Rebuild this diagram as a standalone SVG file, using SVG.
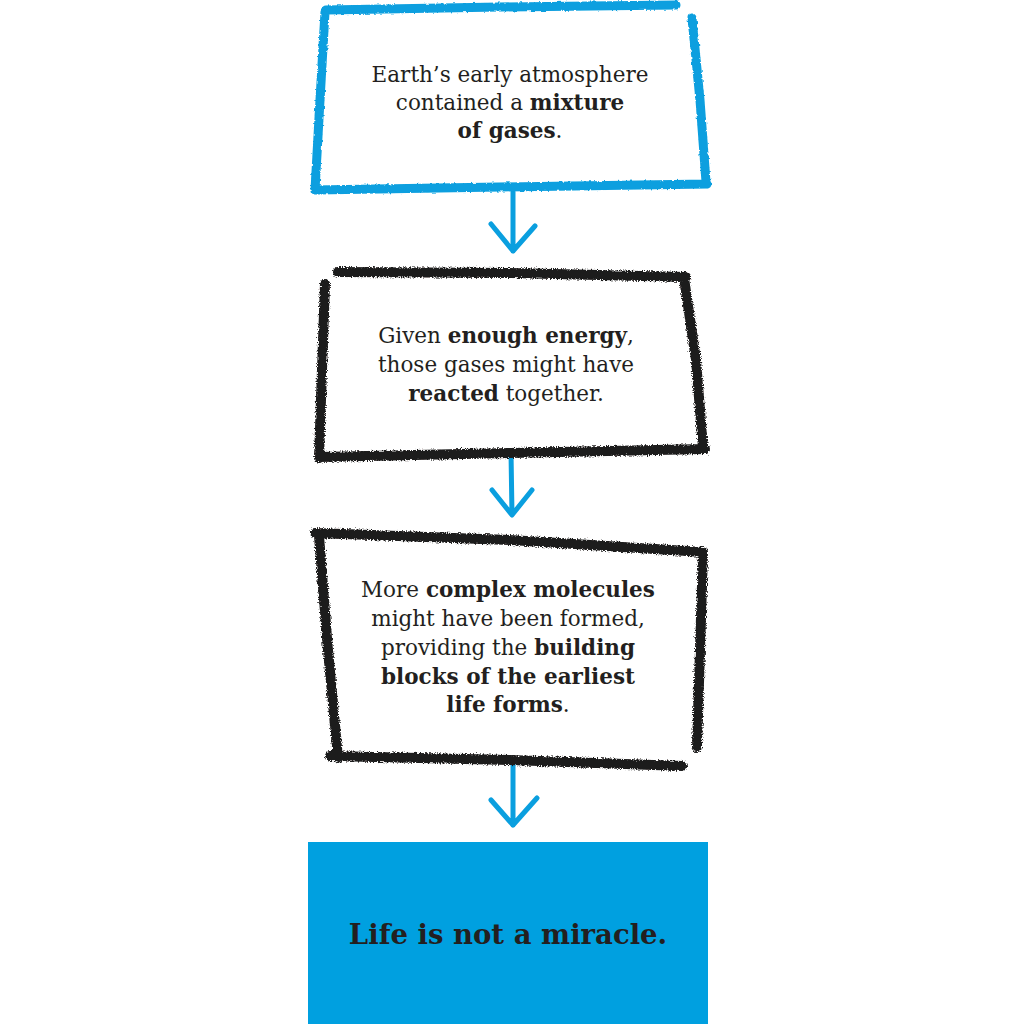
<svg xmlns="http://www.w3.org/2000/svg" width="1024" height="1024" viewBox="0 0 1024 1024">
<defs>
<filter id="rough" x="-5%" y="-5%" width="110%" height="110%">
<feTurbulence type="fractalNoise" baseFrequency="0.8" numOctaves="2" seed="3" result="n"/>
<feDisplacementMap in="SourceGraphic" in2="n" scale="5" xChannelSelector="R" yChannelSelector="G"/>
</filter>
<filter id="rough2" x="-5%" y="-5%" width="110%" height="110%">
<feTurbulence type="fractalNoise" baseFrequency="0.3" numOctaves="2" seed="7" result="n"/>
<feDisplacementMap in="SourceGraphic" in2="n" scale="3" xChannelSelector="R" yChannelSelector="G"/>
</filter>
</defs>
<style>
.blue{fill:none;stroke:#0a9fdf;stroke-width:9;stroke-linecap:round;stroke-linejoin:round}
.black{fill:none;stroke:#1e1c1c;stroke-width:10;stroke-linecap:round;stroke-linejoin:round}
.arrow{fill:none;stroke:#0a9fdf;stroke-width:5;stroke-linecap:round;stroke-linejoin:round}
.t{font-family:"DejaVu Serif","Liberation Serif",serif;font-size:21.5px;fill:#231f20;text-anchor:middle;font-weight:normal}
.b{font-weight:bold}
.big{font-family:"DejaVu Serif","Liberation Serif",serif;font-size:27.5px;fill:#231f20;text-anchor:middle;font-weight:bold}
</style>
<rect width="1024" height="1024" fill="#ffffff"/>
<g id="connectors">
<path class="arrow" d="M513 192 L513 251 M491 224 L513 251 L535 226"/>
<path class="arrow" d="M511 452 L512 515 M492 490 L512 515 L532 490"/>
<path class="arrow" d="M513 760 L513 825 M491 800 L513 825 L537 798"/>
</g>
<g id="node1">
<path class="blue" filter="url(#rough2)" d="M326 10 L500 7 L676 5 M325 12 L320 100 L315 190 M315 190 L500 187 L707 184 M692 18 L700 100 L706 182"/>
<text class="t" x="510" y="82">Earth’s early atmosphere</text>
<text class="t" x="510" y="110">contained a <tspan class="b">mixture</tspan></text>
<text class="t" x="510" y="138"><tspan class="b">of gases</tspan>.</text>
</g>
<g id="node2">
<path class="black" filter="url(#rough)" d="M338 272 L510 273 L686 277 M325 284 L322 370 L319 458 M319 457 L510 453 L705 449 M684 278 L696 360 L703 448"/>
<text class="t" x="506" y="343">Given <tspan class="b">enough energy</tspan>,</text>
<text class="t" x="506" y="372">those gases might have</text>
<text class="t" x="506" y="401"><tspan class="b">reacted</tspan> together.</text>
</g>
<g id="node3">
<path class="black" filter="url(#rough)" d="M315 533 L510 540 L703 552 M319 536 L328 650 L338 758 M330 756 L510 760 L682 766 M703 553 L700 650 L697 747"/>
<text class="t" x="508" y="597">More <tspan class="b">complex molecules</tspan></text>
<text class="t" x="508" y="626">might have been formed,</text>
<text class="t" x="508" y="655">providing the <tspan class="b">building</tspan></text>
<text class="t" x="508" y="684"><tspan class="b">blocks of the earliest</tspan></text>
<text class="t" x="508" y="712"><tspan class="b">life forms</tspan>.</text>
</g>
<g id="node4">
<rect x="308" y="842" width="400" height="182" fill="#00a0e0"/>
<text class="big" x="508" y="944">Life is not a miracle.</text>
</g>
</svg>
